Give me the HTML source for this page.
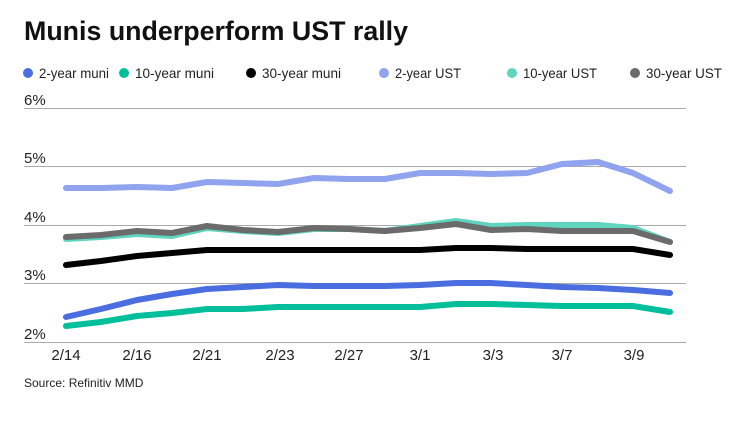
<!DOCTYPE html>
<html><head><meta charset="utf-8"><style>
body{margin:0;background:#fff;width:740px;height:416px;overflow:hidden;font-family:"Liberation Sans",sans-serif;}
</style></head><body>
<svg width="740" height="416" xmlns="http://www.w3.org/2000/svg" font-family="Liberation Sans, sans-serif">
<text x="24" y="40" font-size="27" font-weight="bold" fill="#111" textLength="384" lengthAdjust="spacingAndGlyphs">Munis underperform UST rally</text>
<g font-size="14" fill="#222">
<circle cx="28" cy="73" r="5" fill="#4a6ee0"/><text x="39" y="78" textLength="70" lengthAdjust="spacingAndGlyphs">2-year muni</text>
<circle cx="124" cy="73" r="5" fill="#00bf9a"/><text x="135" y="78" textLength="79" lengthAdjust="spacingAndGlyphs">10-year muni</text>
<circle cx="251" cy="73" r="5" fill="#000"/><text x="262" y="78" textLength="79" lengthAdjust="spacingAndGlyphs">30-year muni</text>
<circle cx="384" cy="73" r="5" fill="#8fa3ee"/><text x="395" y="78" textLength="66" lengthAdjust="spacingAndGlyphs">2-year UST</text>
<circle cx="512" cy="73" r="5" fill="#5fd4bf"/><text x="523" y="78" textLength="74" lengthAdjust="spacingAndGlyphs">10-year UST</text>
<circle cx="635" cy="73" r="5" fill="#6b6b6b"/><text x="646" y="78" textLength="76" lengthAdjust="spacingAndGlyphs">30-year UST</text>
</g>
<g stroke="#aaa" stroke-width="1">
<line x1="24" x2="686" y1="108.5" y2="108.5"/><line x1="24" x2="686" y1="166.5" y2="166.5"/>
<line x1="24" x2="686" y1="225.5" y2="225.5"/><line x1="24" x2="686" y1="283.5" y2="283.5"/>
<line x1="24" x2="686" y1="342.5" y2="342.5"/>
</g>
<g font-size="15" fill="#222">
<text x="24" y="105">6%</text><text x="24" y="163">5%</text><text x="24" y="222">4%</text><text x="24" y="280">3%</text><text x="24" y="339">2%</text>
</g>
<g font-size="15" fill="#222" text-anchor="middle">
<text x="66" y="360">2/14</text><text x="137" y="360">2/16</text><text x="207" y="360">2/21</text><text x="280" y="360">2/23</text><text x="349" y="360">2/27</text><text x="420" y="360">3/1</text><text x="493" y="360">3/3</text><text x="562" y="360">3/7</text><text x="634" y="360">3/9</text>
</g>
<g fill="none" stroke-width="6" stroke-linecap="round" stroke-linejoin="round">
<polyline stroke="#8fa3ee" points="66,188 101,188 137,187 172,188 207,182 243,183 278,184 314,178 349,179 385,179 420,173 456,173 491,174 527,173 562,164 598,162 633,173 670,191"/>
<polyline stroke="#5fd4bf" points="66,239 101,237 137,234 172,236 207,228 243,231 278,233 314,229 349,229 385,231 420,226 456,221 491,226 527,225 562,225 598,225 633,228 670,242"/>
<polyline stroke="#6b6b6b" points="66,237 101,235 137,231 172,233 207,226 243,230 278,232 314,228 349,229 385,231 420,228 456,224 491,230 527,229 562,231 598,231 633,231 670,242"/>
<polyline stroke="#000" points="66,265 101,261 137,256 172,253 207,250 243,250 278,250 314,250 349,250 385,250 420,250 456,248 491,248 527,249 562,249 598,249 633,249 670,255"/>
<polyline stroke="#4a6ee0" points="66,317 101,309 137,300 172,294 207,289 243,287 278,285 314,286 349,286 385,286 420,285 456,283 491,283 527,285 562,287 598,288 633,290 670,293"/>
<polyline stroke="#00bf9a" points="66,326 101,322 137,316 172,313 207,309 243,309 278,307 314,307 349,307 385,307 420,307 456,304 491,304 527,305 562,306 598,306 633,306 670,312"/>
</g>
<text x="24" y="387" font-size="12" fill="#222">Source: Refinitiv MMD</text>
</svg>
</body></html>
